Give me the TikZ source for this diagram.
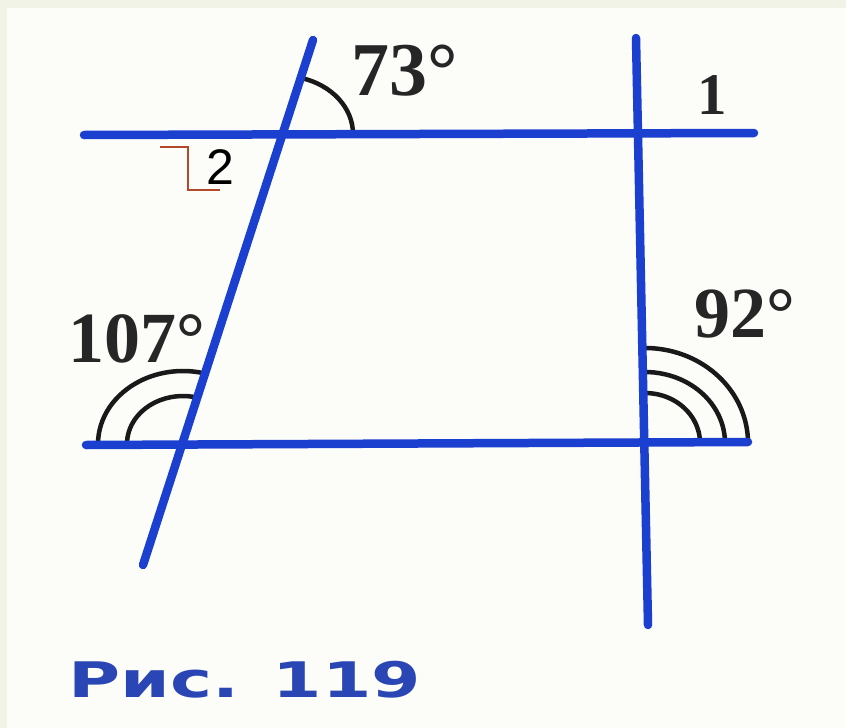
\documentclass[tikz,border=0pt]{standalone}
\usepackage{fontspec}
\setmainfont{Liberation Serif}
\newfontfamily\capfont{DejaVu Sans}
\newfontfamily\lblfont{Liberation Sans}
\definecolor{lineblue}{HTML}{1B3FCF}
\definecolor{capblue}{HTML}{2A46B4}
\definecolor{markred}{HTML}{B5482A}
\definecolor{cream}{HTML}{F1F3E6}
\definecolor{paper}{HTML}{FCFDF9}
\tikzset{
  bline/.style={draw=lineblue, line width=8.5pt, line cap=round},
  anglearc/.style={draw=black!90, line width=4.5pt},
  numlbl/.style={inner sep=0pt, text=black!85, font=\bfseries\fontsize{72}{72}\selectfont},
}
\begin{document}
\begin{tikzpicture}[x=1pt, y=-1pt]
  \fill[cream] (0,0) rectangle (846,728);
  \fill[paper] (7,8) rectangle (846,728);
  \useasboundingbox (0,0) rectangle (846,728);
  % end points of lines
  \coordinate (TL) at (84,135);
  \coordinate (TR) at (754,133);
  \coordinate (BL) at (86,445);
  \coordinate (BR) at (748,442);
  \coordinate (ST) at (313,40);
  \coordinate (SB) at (143,565);
  \coordinate (VT) at (636,38);
  \coordinate (VB) at (648,625);
  % intersections
  \coordinate (A) at (283,134);
  \coordinate (B) at (183,444);
  \coordinate (C) at (645,443);
  % angle arcs
  \draw[anglearc] (A) ++(70,0) arc[start angle=0, end angle=-75, x radius=70, y radius=58];
  \draw[anglearc] (B) ++(-85,0) arc[start angle=-180, end angle=-74.4, x radius=85, y radius=73];
  \draw[anglearc] (B) ++(-56,0) arc[start angle=-180, end angle=-74.4, x radius=56, y radius=48];
  \draw[anglearc] (C) ++(103,0) arc[start angle=0, end angle=-91, x radius=103, y radius=95];
  \draw[anglearc] (C) ++(80,0) arc[start angle=0, end angle=-91, x radius=80, y radius=71];
  \draw[anglearc] (C) ++(55,0) arc[start angle=0, end angle=-91, x radius=55, y radius=50];
  % lines
  \draw[bline] (TL) -- (TR);
  \draw[bline] (BL) -- (BR);
  \draw[bline] (ST) -- (SB);
  \draw[bline] (VT) -- (VB);
  % marker for label 2
  \coordinate (M1) at (160,147);
  \coordinate (M2) at (188,147);
  \coordinate (M3) at (188,190);
  \coordinate (M4) at (220,190);
  \draw[markred, line width=2.2pt] (M1) -- (M2) -- (M3) -- (M4);
  % labels
  \node[numlbl, font=\bfseries\fontsize{76}{76}\selectfont] (l73) at (405,71) {73°};
  \node[numlbl, font=\bfseries\fontsize{59}{59}\selectfont] (l1) at (712,95) {1};
  \node[numlbl] (l107) at (137,339) {107°};
  \node[numlbl] (l92) at (745,314) {92°};
  \node[inner sep=0pt, font=\lblfont\fontsize{50}{50}\selectfont] (l2) at (220,167) {2};
  \node[inner sep=0pt, text=capblue, font=\capfont\bfseries\fontsize{49}{49}\selectfont, xscale=1.45, transform shape] (cap) at (245,680) {Рис. 119};
\end{tikzpicture}
\end{document}
